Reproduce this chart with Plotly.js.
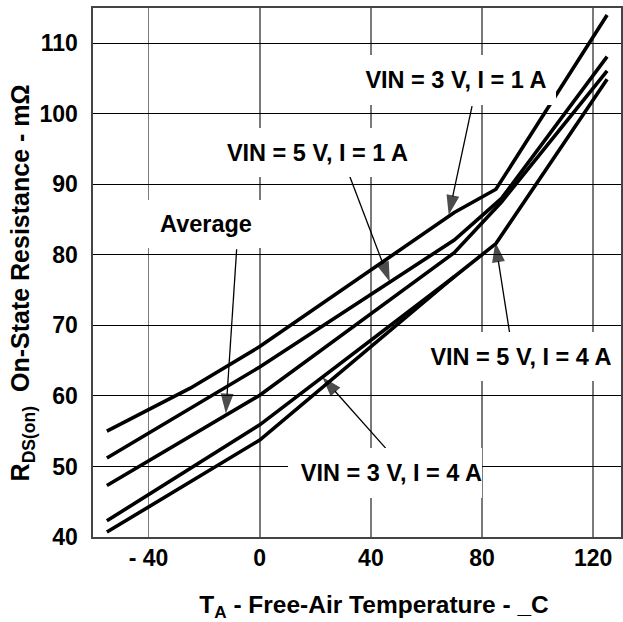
<!DOCTYPE html>
<html><head><meta charset="utf-8">
<script src="https://cdn.plot.ly/plotly-3.0.1.min.js"></script>
<style>html,body{margin:0;padding:0;background:#fff}#chart{width:623px;height:622px}</style>
</head><body><div id="chart"></div>
<script>
// ---- data ----
const seriesNames = ['VIN = 3 V, I = 1 A', 'VIN = 5 V, I = 1 A', 'Average', 'VIN = 3 V, I = 4 A', 'VIN = 5 V, I = 4 A'];
const temp3V1A = [-55, -25, 0, 70, 85, 125];
const res3V1A  = [55.0, 61.1, 67.0, 86.0, 89.3, 114.0];
const temp5V1A = [-55, 0, 70, 87, 125];
const res5V1A  = [51.2, 64.1, 82.1, 88.0, 108.1];
const tempAvg  = [-55, 0, 70, 87, 125];
const resAvg   = [47.3, 60.1, 80.3, 87.5, 106.1];
const temp3V4A = [-55, 0, 70];
const res3V4A  = [42.3, 55.9, 76.9];
const temp5V4A = [-55, 0, 70, 85, 125];
const res5V4A  = [40.7, 53.75, 76.9, 81.6, 104.9];
const xTickVals = [-40, 0, 40, 80, 120];
const xTickText = ['- 40', '0', '40', '80', '120'];
const yTickVals = [40, 50, 60, 70, 80, 90, 100, 110];
const yTickText = ['40', '50', '60', '70', '80', '90', '100', '110'];
// pointer arrows: [tail T, tail R, head T, head R] (head lies on the curve)
const arrow3V1A = [76.4, 101.1, 68.0, 85.65];
const arrow5V1A = [32.4, 91.1, 46.8, 76.2];
const arrowAvg  = [-8.3, 80.8, -12.2, 57.5];
const arrow5V4A = [89.9, 69.0, 84.8, 81.8];
const arrow3V4A = [45.3, 52.6, 22.5, 62.7];

// ---- styling / layout ----
const FONT = 'Liberation Sans, Arial, Helvetica, sans-serif';
const xs = [temp3V1A, temp5V1A, tempAvg, temp3V4A, temp5V4A];
const ys = [res3V1A, res5V1A, resAvg, res3V4A, res5V4A];
const traces = xs.map((x, i) => ({
  x: x, y: ys[i], name: seriesNames[i], type: 'scatter', mode: 'lines',
  line: {color: '#000', width: 3.6}, hoverinfo: 'skip'
}));
[arrow3V1A, arrow5V1A, arrowAvg, arrow5V4A, arrow3V4A].forEach(a => {
  traces.push({
    x: [a[0], a[2]], y: [a[1], a[3]], type: 'scatter', mode: 'lines+markers',
    line: {color: '#000', width: 1.3}, hoverinfo: 'skip',
    marker: {symbol: 'arrow', size: [0, 21], angleref: 'previous', color: '#000', line: {width: 0}}
  });
});

// label boxes: [text, T, R, width, height, align]
const labelPos = [
  [seriesNames[0], 70.6, 104.8, 200, 50, 'center'],
  [seriesNames[1], 20.7, 94.5, 203, 49, 'center'],
  [seriesNames[2], -19.2, 84.4, 122, 48, 'center'],
  [seriesNames[4], 94.0, 65.6, 200, 49, 'center'],
  [seriesNames[3], 44.9, 49.1, 194, 50, 'right']
];
const annotations = labelPos.map(l => ({
  text: l[0], x: l[1], y: l[2], xref: 'x', yref: 'y', showarrow: false,
  width: l[3], height: l[4], align: l[5], valign: 'middle',
  bgcolor: '#fff', borderpad: 0, borderwidth: 0,
  font: {family: FONT, size: 23.5, color: '#000', weight: 'bold'}
}));

const layout = {
  width: 623, height: 622,
  margin: {l: 93, r: 2, t: 8, b: 85},
  paper_bgcolor: '#fff', plot_bgcolor: '#fff',
  showlegend: false,
  font: {family: FONT, size: 23, color: '#000', weight: 'bold'},
  xaxis: {
    range: [-60, 130], tickmode: 'array', tickvals: xTickVals, ticktext: xTickText,
    showgrid: true, gridcolor: '#7a7a7a', gridwidth: 1.6, zeroline: false,
    showline: true, mirror: true, linecolor: '#444', linewidth: 1.6, ticks: '',
    ticklabelstandoff: 0,
    tickfont: {family: FONT, size: 23, color: '#000', weight: 'bold'},
    title: {text: '&nbsp;&nbsp;&nbsp;&nbsp;&nbsp;T<sub>A</sub> - Free-Air Temperature - _C', standoff: 36,
            font: {family: FONT, size: 24.5, color: '#000', weight: 'bold'}}
  },
  yaxis: {
    range: [40, 115], tickmode: 'array', tickvals: yTickVals, ticktext: yTickText,
    showgrid: true, gridcolor: '#000', gridwidth: 1, zeroline: false,
    showline: true, mirror: true, linecolor: '#444', linewidth: 1.6, ticks: '',
    ticklabelstandoff: 9,
    tickfont: {family: FONT, size: 23, color: '#000', weight: 'bold'},
    title: {text: 'R<sub>DS(on)</sub>&nbsp;&nbsp;On-State Resistance - mΩ&nbsp;&nbsp;&nbsp;', standoff: 2,
            font: {family: FONT, size: 25, color: '#000', weight: 'bold'}}
  },
  annotations: annotations
};
Plotly.newPlot('chart', traces, layout, {staticPlot: true, displayModeBar: false});
</script></body></html>
